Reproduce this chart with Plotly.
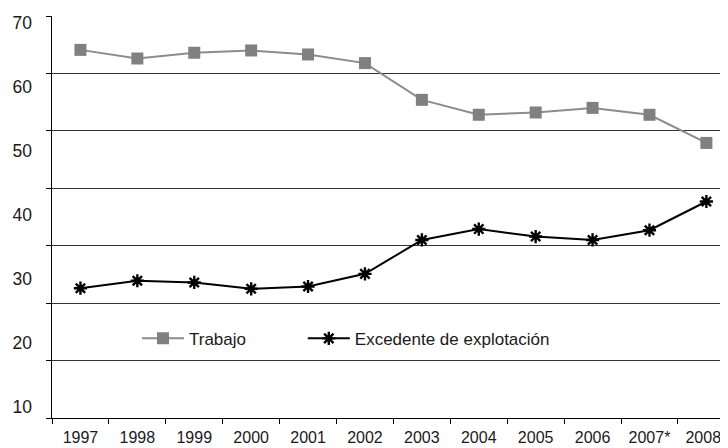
import plotly.graph_objects as go

years = ["1997", "1998", "1999", "2000", "2001", "2002", "2003", "2004", "2005", "2006", "2007*", "2008*"]
trabajo = [64.1, 62.6, 63.6, 64.0, 63.3, 61.8, 55.4, 52.8, 53.2, 54.0, 52.8, 47.9]
excedente = [22.6, 23.9, 23.6, 22.5, 22.9, 25.1, 31.0, 32.9, 31.6, 31.0, 32.7, 37.7]
ytick_labels = [10, 20, 30, 40, 50, 60, 70]

FONT = "Liberation Sans"

fig = go.Figure()
fig.add_trace(go.Scatter(
    x=years, y=trabajo, name="Trabajo", mode="lines+markers",
    line=dict(color="#8c8c8c", width=2),
    marker=dict(symbol="square", size=12, color="#808080"),
    legend="legend",
))
fig.add_trace(go.Scatter(
    x=years, y=excedente, name="Excedente de explotación", mode="lines+markers",
    line=dict(color="#000000", width=2),
    marker=dict(symbol="asterisk-open", size=11, color="#000000", line=dict(color="#000000", width=2.4)),
    legend="legend2",
))
# helper trace so the label axis is drawn
fig.add_trace(go.Scatter(
    x=years, y=[None] * len(years), yaxis="y2", showlegend=False, hoverinfo="skip", mode="lines",
))

legend_common = dict(
    orientation="h", yanchor="middle", xanchor="left", itemwidth=42,
    bgcolor="rgba(0,0,0,0)", font=dict(size=17, family=FONT, color="#1a1a1a"),
)

fig.update_layout(
    width=720, height=440,
    margin=dict(l=44, r=0, t=8, b=30),
    paper_bgcolor="white", plot_bgcolor="white",
    font=dict(family=FONT, color="#1a1a1a"),
    showlegend=True,
    legend=dict(x=0.1257, y=0.197, **legend_common),
    legend2=dict(x=0.371, y=0.197, **legend_common),
    xaxis=dict(
        type="category", range=[-0.5, 11.38],
        showgrid=False, showline=True, linecolor="#000", linewidth=1.2,
        ticks="outside", tickson="boundaries", ticklen=5, tickcolor="#000", tickwidth=1,
        tickfont=dict(size=16, family=FONT, color="#1a1a1a"),
        ticklabelstandoff=5,
    ),
    yaxis=dict(
        range=[0, 70], dtick=10, tick0=0,
        showgrid=True, gridcolor="#333333", gridwidth=1.2,
        showticklabels=False, zeroline=False,
        showline=True, linecolor="#000", linewidth=1.2,
        ticks="outside", ticklen=5, tickcolor="#000",
    ),
    yaxis2=dict(
        overlaying="y", side="left", range=[8.23, 71.05],
        tickvals=ytick_labels, ticktext=[str(v) for v in ytick_labels],
        showgrid=False, showline=False, zeroline=False, ticks="",
        tickfont=dict(size=17.5, family=FONT, color="#1a1a1a"),
        ticklabelstandoff=19,
    ),
)

fig.write_html("out.html")
